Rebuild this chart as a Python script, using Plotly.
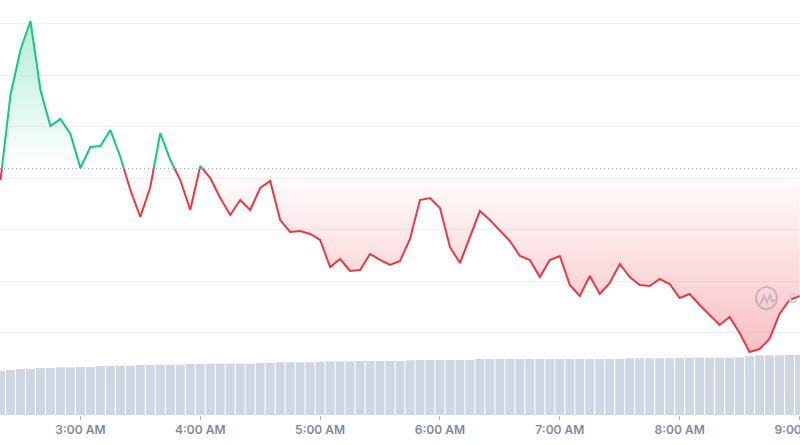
import plotly.graph_objects as go
import pandas as pd

# ---------------- data ----------------
times = pd.date_range("2024-05-14 02:20", periods=81, freq="5min")

price = [
    2.42965, 2.44618, 2.45493, 2.46057, 2.44715, 2.44015, 2.44151, 2.43860, 2.43199, 2.43607,
    2.43626, 2.43937, 2.43412, 2.42771, 2.42246, 2.42829, 2.43879, 2.43354, 2.42965, 2.42382,
    2.43237, 2.43004, 2.42615, 2.42285, 2.42576, 2.42382, 2.42810, 2.42946, 2.42187, 2.41954,
    2.41974, 2.41915, 2.41799, 2.41274, 2.41429, 2.41196, 2.41215, 2.41526, 2.41410, 2.41313,
    2.41390, 2.41818, 2.42576, 2.42615, 2.42421, 2.41663, 2.41351, 2.41857, 2.42362, 2.42187,
    2.41974, 2.41779, 2.41488, 2.41410, 2.41079, 2.41410, 2.41488, 2.40924, 2.40710, 2.41099,
    2.40749, 2.40963, 2.41332, 2.41079, 2.40924, 2.40904, 2.41040, 2.40943, 2.40671, 2.40749,
    2.40535, 2.40340, 2.40146, 2.40301, 2.39990, 2.39621, 2.39679, 2.39874, 2.40360, 2.40632,
    2.40710,
]

volume_m = [
    44.3, 45.0, 46.0, 46.3, 47.0, 47.0, 47.7, 47.7, 48.0, 48.0,
    49.0, 49.0, 49.3, 49.3, 50.0, 50.0, 50.3, 50.3, 50.3, 51.0,
    51.0, 51.3, 51.3, 51.3, 51.3, 51.3, 52.0, 52.0, 52.7, 52.7,
    52.7, 52.7, 53.0, 53.7, 53.7, 53.7, 54.0, 54.0, 54.0, 54.0,
    54.0, 54.7, 55.0, 55.0, 55.0, 55.0, 55.0, 55.0, 56.0, 56.0,
    56.0, 56.0, 56.0, 56.0, 56.0, 56.0, 56.0, 56.0, 56.0, 56.0,
    56.0, 56.0, 56.0, 56.7, 56.7, 56.7, 56.7, 56.7, 57.0, 57.3,
    57.3, 57.3, 57.3, 57.3, 57.7, 59.0, 59.7, 59.7, 59.7, 60.0,
    60.0,
]

baseline_price = 2.43185
grid_prices = [2.40, 2.41, 2.42, 2.43, 2.44, 2.45, 2.46]

GREEN = "#16c784"
RED = "#ea3943"
BAR = "#cfd6e4"
GRID = "#eff2f5"
LABEL = "#808a9d"

# ------------- split at the baseline crossings -------------
ext_x, ext_y = [], []
for i in range(len(price)):
    ext_x.append(times[i])
    ext_y.append(price[i])
    if i < len(price) - 1:
        a, b = price[i], price[i + 1]
        if (a - baseline_price) * (b - baseline_price) < 0:
            frac = (baseline_price - a) / (b - a)
            ext_x.append(times[i] + (times[i + 1] - times[i]) * frac)
            ext_y.append(baseline_price)

green_line = [v if v >= baseline_price else None for v in ext_y]
red_line = [v if v <= baseline_price else None for v in ext_y]
upper = [max(v, baseline_price) for v in ext_y]
lower = [min(v, baseline_price) for v in ext_y]
base = [baseline_price] * len(ext_x)

fig = go.Figure()

fig.add_trace(go.Bar(
    x=times, y=volume_m, yaxis="y2", marker=dict(color=BAR, line=dict(width=0)),
    hoverinfo="skip",
))

fig.add_trace(go.Scatter(x=ext_x, y=base, mode="lines", line=dict(width=0), hoverinfo="skip"))
fig.add_trace(go.Scatter(
    x=ext_x, y=upper, mode="lines", line=dict(width=0), fill="tonexty",
    fillgradient=dict(type="vertical",
                      colorscale=[[0, "rgba(22,199,132,0)"], [1, "rgba(22,199,132,0.32)"]]),
    hoverinfo="skip",
))
fig.add_trace(go.Scatter(x=ext_x, y=base, mode="lines", line=dict(width=0), hoverinfo="skip"))
fig.add_trace(go.Scatter(
    x=ext_x, y=lower, mode="lines", line=dict(width=0), fill="tonexty",
    fillgradient=dict(type="vertical",
                      colorscale=[[0, "rgba(234,57,67,0.32)"], [1, "rgba(234,57,67,0)"]]),
    hoverinfo="skip",
))

fig.add_trace(go.Scatter(x=ext_x, y=green_line, mode="lines",
                         line=dict(color=GREEN, width=2), connectgaps=False))
fig.add_trace(go.Scatter(x=ext_x, y=red_line, mode="lines",
                         line=dict(color=RED, width=2), connectgaps=False))

# baseline (dotted)
fig.add_shape(type="line", xref="paper", x0=0, x1=1, yref="y", y0=baseline_price, y1=baseline_price,
              line=dict(color="#8d96a8", width=1, dash="1px,3px"), layer="between")

# watermark logo
H = 415.0
def px(x, y):
    return x / 800.0, 1 - y / H

wm = "#c9d3e4"
cx0, cy0 = px(756, 287)
cx1, cy1 = px(777, 309)
fig.add_shape(type="circle", xref="paper", yref="paper", x0=cx0, y0=cy1, x1=cx1, y1=cy0,
              line=dict(color=wm, width=2), layer="between")
pts = [(760.5, 304), (764, 295.5), (767, 302.5), (770, 295), (772.5, 302), (775.5, 299.5)]
path = "M " + " L ".join("%f,%f" % px(x, y) for x, y in pts)
fig.add_shape(type="path", xref="paper", yref="paper", path=path,
              line=dict(color=wm, width=2), layer="between")
fig.add_annotation(xref="paper", yref="paper", x=786 / 800, y=1 - 297 / H, text="c",
                   showarrow=False, xanchor="left", yanchor="middle",
                   font=dict(family="Inter", size=17, color=wm, weight=600))

fig.update_layout(
    width=800, height=445,
    margin=dict(l=0, r=0, t=0, b=30, autoexpand=False),
    paper_bgcolor="white", plot_bgcolor="white",
    showlegend=False,
    bargap=0.1,
    xaxis=dict(
        range=["2024-05-14 02:19:45", "2024-05-14 09:00:15"],
        type="date",
        tick0="2024-05-14 00:00", dtick=3600000,
        tickformat="%-I:%M %p",
        showgrid=False, zeroline=False, showline=False,
        ticks="outside", ticklen=4, tickcolor="#a6b0c3", tickwidth=1,
        ticklabeloverflow="allow", automargin=False,
        tickfont=dict(family="Inter", size=12, color=LABEL, weight=600),
    ),
    yaxis=dict(
        range=[2.383959, 2.464651],
        tickvals=grid_prices, showticklabels=False,
        showgrid=True, gridcolor=GRID, gridwidth=1,
        zeroline=False, showline=False, automargin=False,
    ),
    yaxis2=dict(
        range=[0, 415], overlaying="y", side="right",
        showgrid=False, showticklabels=False, zeroline=False, showline=False,
        automargin=False,
    ),
)

fig.write_html("out.html", config={"displayModeBar": False},
               post_script="document.body.style.margin='0';document.body.style.overflow='hidden';")
